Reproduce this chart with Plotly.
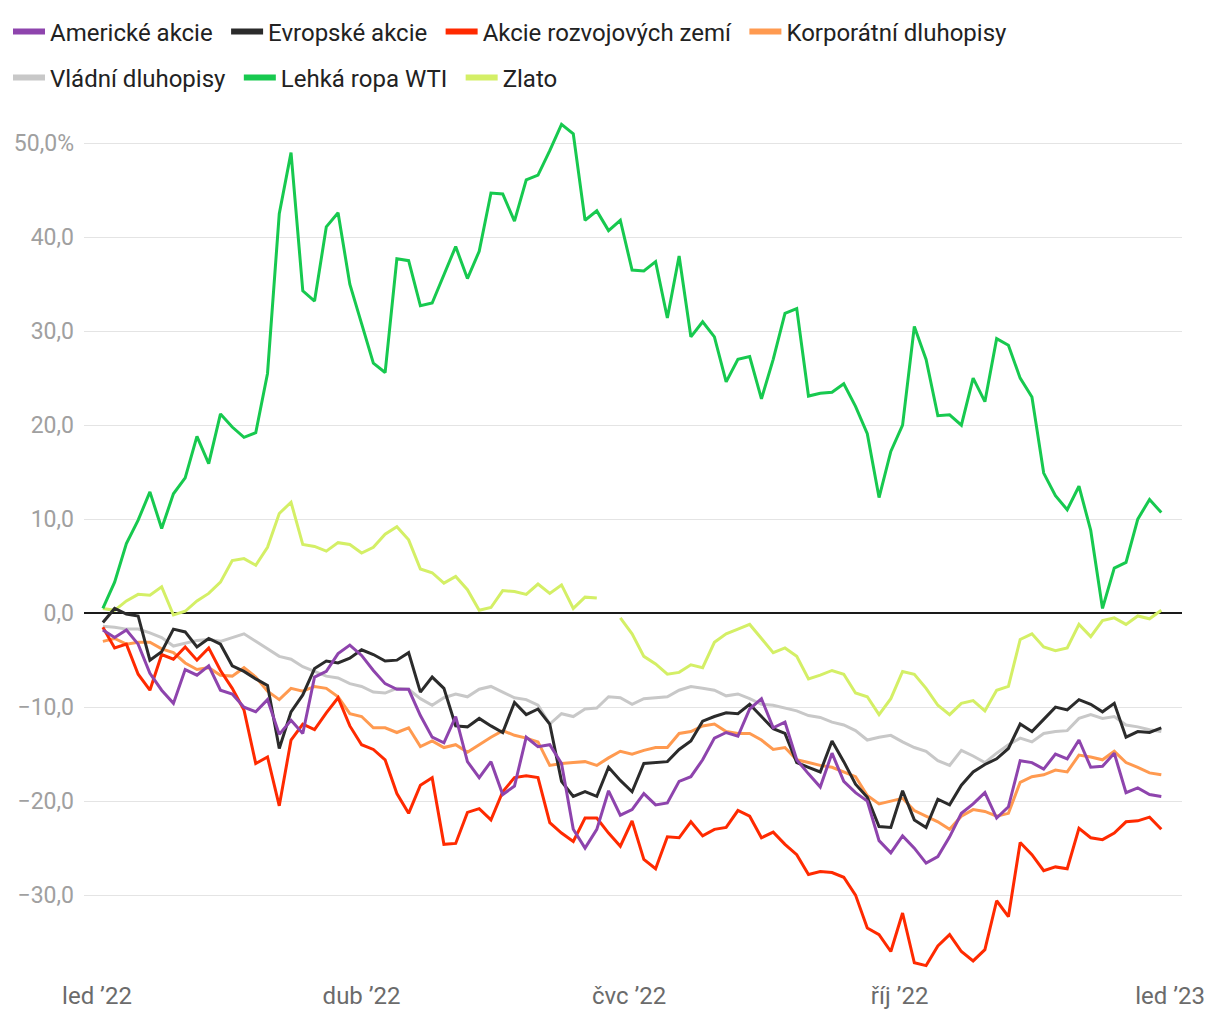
import pandas as pd
import plotly.graph_objects as go

# ---- data (cumulative return in %, 2022) ----
dates = pd.date_range("2022-01-03", periods=91, freq="4D")

us_equities = [-1.8, -2.6, -1.8, -3.3, -6.4, -8.2, -9.6, -6.0, -6.6, -5.6,
               -8.2, -8.6, -10.0, -10.5, -9.2, -12.9, -11.4, -12.8, -6.8, -6.2,
               -4.3, -3.4, -4.5, -6.1, -7.5, -8.1, -8.1, -10.9, -13.2, -13.8,
               -11.0, -15.8, -17.5, -15.8, -19.3, -18.4, -13.2, -14.2, -14.0, -16.0,
               -23.0, -25.0, -23.0, -18.9, -21.5, -20.9, -19.2, -20.4, -20.2, -17.9,
               -17.4, -15.6, -13.3, -12.7, -13.1, -10.2, -9.1, -12.2, -11.6, -15.6,
               -17.1, -18.5, -14.9, -17.9, -19.1, -20.0, -24.2, -25.5, -23.7, -25.0,
               -26.6, -25.9, -23.8, -21.3, -20.3, -19.1, -21.8, -20.6, -15.7, -15.9,
               -16.6, -15.0, -15.5, -13.5, -16.4, -16.3, -14.9, -19.1, -18.6, -19.3,
               -19.5]

eu_equities = [-1.0, 0.5, -0.1, -0.3, -5.0, -4.1, -1.7, -2.0, -3.6, -2.7,
               -3.3, -5.6, -6.2, -7.0, -7.7, -14.4, -10.5, -8.7, -5.9, -5.1,
               -5.3, -4.8, -3.9, -4.4, -5.1, -5.0, -4.2, -8.4, -6.8, -8.0,
               -12.0, -12.1, -11.2, -12.0, -12.7, -9.5, -10.8, -10.2, -11.8, -17.9,
               -19.5, -19.0, -19.5, -16.4, -17.8, -19.0, -16.0, -15.9, -15.8, -14.5,
               -13.6, -11.5, -11.0, -10.6, -10.7, -9.7, -11.0, -12.3, -12.8, -15.9,
               -16.4, -16.9, -13.6, -15.8, -18.2, -19.6, -22.7, -22.8, -18.9, -22.0,
               -22.8, -19.8, -20.4, -18.3, -16.9, -16.1, -15.5, -14.4, -11.8, -12.6,
               -11.3, -10.0, -10.3, -9.2, -9.7, -10.5, -9.6, -13.2, -12.6, -12.7,
               -12.2]

em_equities = [-1.5, -3.7, -3.3, -6.5, -8.2, -4.4, -4.9, -3.6, -5.0, -3.7,
               -6.1, -8.0, -10.3, -16.0, -15.3, -20.5, -13.5, -11.8, -12.4, -10.6,
               -9.0, -12.0, -14.0, -14.5, -15.6, -19.2, -21.3, -18.3, -17.5, -24.6,
               -24.5, -21.2, -20.8, -22.0, -19.0, -17.5, -17.3, -17.5, -22.3, -23.4,
               -24.3, -21.8, -21.8, -23.4, -24.8, -22.1, -26.2, -27.2, -23.8, -23.9,
               -22.2, -23.7, -23.0, -22.8, -21.0, -21.6, -23.9, -23.3, -24.6, -25.7,
               -27.8, -27.5, -27.6, -28.1, -30.0, -33.5, -34.2, -36.0, -31.9, -37.2,
               -37.5, -35.4, -34.2, -36.0, -37.0, -35.8, -30.6, -32.3, -24.4, -25.7,
               -27.4, -27.0, -27.2, -22.9, -23.9, -24.1, -23.4, -22.2, -22.1, -21.7,
               -23.0]

corp_bonds = [-3.0, -2.7, -3.3, -3.1, -3.1, -3.8, -4.2, -5.3, -6.0, -5.8,
              -6.6, -6.7, -5.8, -6.8, -8.3, -9.2, -8.0, -8.3, -7.8, -8.0,
              -8.9, -10.7, -11.0, -12.2, -12.2, -12.7, -12.2, -14.2, -13.6, -14.3,
              -14.0, -14.8, -14.0, -13.2, -12.5, -13.0, -13.3, -13.7, -16.2, -16.0,
              -15.9, -15.8, -16.2, -15.4, -14.7, -15.0, -14.6, -14.3, -14.3, -12.8,
              -12.6, -12.0, -11.8, -12.6, -12.8, -12.8, -13.5, -14.5, -14.3, -15.6,
              -15.9, -16.2, -16.4, -16.9, -17.4, -19.4, -20.3, -20.0, -19.7, -21.0,
              -21.6, -22.2, -23.0, -21.6, -20.9, -21.1, -21.6, -21.3, -18.0, -17.4,
              -17.2, -16.7, -16.9, -15.1, -15.3, -15.6, -14.7, -15.9, -16.4, -17.0,
              -17.2]

gov_bonds = [-1.4, -1.5, -1.7, -1.7, -2.1, -2.6, -3.5, -3.2, -2.9, -2.8,
             -3.0, -2.6, -2.2, -3.0, -3.8, -4.6, -4.9, -5.7, -6.2, -6.7,
             -6.9, -7.5, -7.8, -8.4, -8.5, -8.0, -8.1, -9.1, -9.8, -9.0,
             -8.6, -8.9, -8.1, -7.8, -8.4, -9.0, -9.2, -9.8, -11.8, -10.7,
             -11.0, -10.2, -10.1, -8.9, -9.0, -9.7, -9.1, -9.0, -8.9, -8.2,
             -7.8, -8.0, -8.2, -8.8, -8.6, -9.1, -9.7, -9.8, -10.1, -10.4,
             -10.9, -11.1, -11.6, -11.9, -12.5, -13.5, -13.2, -13.0, -13.7, -14.3,
             -14.7, -15.7, -16.2, -14.6, -15.2, -15.9, -14.9, -14.0, -13.3, -13.7,
             -12.8, -12.6, -12.5, -11.2, -10.8, -11.2, -11.0, -11.9, -12.1, -12.4,
             -12.6]

wti_oil = [0.5, 3.3, 7.4, 9.9, 12.9, 9.0, 12.7, 14.4, 18.8, 15.9,
           21.2, 19.8, 18.7, 19.2, 25.5, 42.5, 49.0, 34.3, 33.2, 41.1,
           42.6, 35.0, 30.8, 26.6, 25.6, 37.7, 37.5, 32.7, 33.0, 36.1,
           39.0, 35.6, 38.5, 44.7, 44.6, 41.7, 46.1, 46.6, 49.2, 52.0,
           51.0, 41.8, 42.8, 40.7, 41.8, 36.5, 36.4, 37.4, 31.4, 38.0,
           29.4, 31.0, 29.4, 24.6, 27.0, 27.3, 22.8, 27.0, 31.9, 32.4,
           23.1, 23.4, 23.5, 24.4, 22.0, 19.1, 12.3, 17.2, 20.0, 30.5,
           27.0, 21.0, 21.1, 20.0, 25.0, 22.5, 29.2, 28.5, 25.0, 23.0,
           14.9, 12.5, 11.0, 13.5, 8.8, 0.5, 4.8, 5.4, 10.0, 12.1,
           10.7]

gold = [0.5, 0.3, 1.3, 2.0, 1.9, 2.8, -0.2, 0.2, 1.3, 2.1,
        3.3, 5.6, 5.8, 5.1, 7.0, 10.6, 11.8, 7.3, 7.1, 6.6,
        7.5, 7.3, 6.4, 7.0, 8.4, 9.2, 7.8, 4.7, 4.3, 3.2,
        3.9, 2.5, 0.3, 0.6, 2.4, 2.3, 2.0, 3.1, 2.1, 3.0,
        0.5, 1.7, 1.6, None, -0.5, -2.2, -4.6, -5.4, -6.5, -6.3,
        -5.5, -5.8, -3.1, -2.2, -1.7, -1.2, -2.7, -4.2, -3.7, -4.6,
        -7.0, -6.6, -6.1, -6.5, -8.5, -8.9, -10.8, -9.1, -6.2, -6.5,
        -8.0, -9.8, -10.8, -9.6, -9.3, -10.4, -8.2, -7.8, -2.8, -2.2,
        -3.6, -4.0, -3.7, -1.2, -2.5, -0.8, -0.5, -1.2, -0.3, -0.6,
        0.3]

series_names = ["Americké akcie", "Evropské akcie", "Akcie rozvojových zemí",
                "Korporátní dluhopisy", "Vládní dluhopisy", "Lehká ropa WTI", "Zlato"]
series_colors = ["#8e44ad", "#2b2b2b", "#ff2a00", "#ff9a50",
                 "#c8c8c8", "#17c94f", "#d4ef66"]
series_values = [us_equities, eu_equities, em_equities, corp_bonds,
                 gov_bonds, wti_oil, gold]

x_tick_vals = ["2022-01-01", "2022-04-01", "2022-07-01", "2022-10-01", "2023-01-01"]
x_tick_text = ["led \u201922", "dub \u201922", "\u010dvc \u201922", "\u0159\u00edj \u201922", "led \u201923"]
y_tick_vals = [-30, -20, -10, 0, 10, 20, 30, 40, 50]
y_tick_text = ["\u221230,0", "\u221220,0", "\u221210,0", "0,0", "10,0", "20,0", "30,0", "40,0", "50,0%"]

fig = go.Figure()

# drawing order (bottom to top)
draw_order = [4, 6, 5, 3, 2, 1, 0]
for i in draw_order:
    fig.add_trace(go.Scatter(
        x=dates, y=series_values[i], mode="lines", name=series_names[i],
        line=dict(color=series_colors[i], width=3), showlegend=False,
        connectgaps=False, hoverinfo="skip"))

# legend entries (thicker swatches), two rows
for i, name in enumerate(series_names):
    fig.add_trace(go.Scatter(
        x=[None], y=[None], mode="lines", name=name + "\u00a0\u200a",
        line=dict(color=series_colors[i], width=6),
        legend="legend" if i < 4 else "legend2", legendrank=i + 1))

legend_common = dict(orientation="h", xref="container", yref="container",
                     xanchor="left", yanchor="middle", bgcolor="rgba(0,0,0,0)",
                     font=dict(family="Roboto", size=24, color="#222222"),
                     itemwidth=32, borderwidth=0)

fig.update_layout(
    width=1220, height=1020,
    margin=dict(l=76, r=46, t=107, b=53, autoexpand=False),
    plot_bgcolor="white", paper_bgcolor="white",
    font=dict(family="Roboto", size=22, color="#222222"),
    legend=dict(x=0, y=1 - 24 / 1020, **legend_common),
    legend2=dict(x=0, y=1 - 70 / 1020, **legend_common),
    xaxis=dict(type="date", range=["2021-12-27 14:00", "2023-01-05 01:00"],
               tickvals=x_tick_vals, ticktext=x_tick_text,
               showgrid=False, zeroline=False, showline=False, ticks="",
               ticklabelstandoff=4,
               tickfont=dict(family="Roboto", size=24, color="#6b6b6b"),
               automargin=False),
    yaxis=dict(range=[-38.5, 53], tickvals=y_tick_vals, ticktext=y_tick_text,
               showgrid=True, gridcolor="#e4e4e4", gridwidth=1,
               zeroline=True, zerolinecolor="#1a1a1a", zerolinewidth=2,
               showline=False, ticks="", ticklabelstandoff=9,
               tickfont=dict(family="Roboto", size=23, color="#a0a0a0"),
               automargin=False),
    hovermode=False,
)

fig.write_html("out.html")
